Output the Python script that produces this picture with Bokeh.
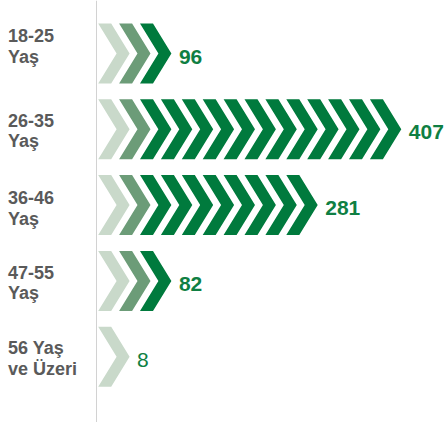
from bokeh.plotting import figure
from bokeh.models import ColumnDataSource, Range1d, Span
from bokeh.core.properties import value
from bokeh.embed import file_html
from bokeh.resources import INLINE

# ---- data ----
cat_line1 = ["18-25", "26-35", "36-46", "47-55", "56 Yaş"]
cat_line2 = ["Yaş", "Yaş", "Yaş", "Yaş", "ve Üzeri"]
values = [96, 407, 281, 82, 8]
unit_per_chevron = 29

# ---- layout constants (pixels) ----
W, H = 445, 422
AXIS_X = 96          # axis line position inside figure
ROW0 = 53            # centre of first row (px from top)
ROW_STEP = 75.8      # px between rows
STEP = 20.9          # px between chevrons
HALF = 30 / ROW_STEP # half height in row units
LEFT0 = 1.7
TOPW = 13.0
TIP = 31.4
NOTCH = 18.4
label_dy = [-6.5, 2.0, 4.0, 2.5, 3.0]   # vertical nudge of category text (px)

colors = ["#c9d9ca", "#6c9c78", "#007a3d"]

p = figure(width=W, height=H, output_backend="svg", toolbar_location=None,
           x_range=Range1d(-AXIS_X, W - AXIS_X),
           y_range=Range1d((H - ROW0) / ROW_STEP, -ROW0 / ROW_STEP),
           min_border=0, outline_line_color=None,
           x_axis_location=None, y_axis_location=None)
p.xgrid.visible = False
p.ygrid.visible = False
p.background_fill_color = "white"
p.border_fill_color = "white"

xs, ys, fills = [], [], []
lab_x, lab_y, lab_t, lab_style = [], [], [], []
for i, v in enumerate(values):
    n = max(1, round(v / unit_per_chevron))
    c = i
    for k in range(n):
        l = LEFT0 + k * STEP
        xs.append([l, l + TOPW, l + TIP, l + TOPW, l, l + NOTCH])
        ys.append([c - HALF, c - HALF, c, c + HALF, c + HALF, c])
        fills.append(colors[min(k, 2)])
    lab_x.append(LEFT0 + (n - 1) * STEP + TIP + 7.5)
    lab_y.append(c + 3.0 / ROW_STEP)
    lab_t.append(str(v))
    lab_style.append("bold" if v >= 10 else "normal")

p.patches(xs="xs", ys="ys", fill_color="fc", line_color=None,
          source=ColumnDataSource(dict(xs=xs, ys=ys, fc=fills)))

p.text(x="x", y="y", text="t", text_font_style="s",
       source=ColumnDataSource(dict(x=lab_x, y=lab_y, t=lab_t, s=lab_style)),
       text_font=value("Liberation Sans"), text_font_size="21px",
       text_color="#0f7f43", text_baseline="alphabetic", text_align="left")

ny = len(values)
p.text(x=[-AXIS_X + 7.5] * ny, y=[i + (label_dy[i] - 11.3) / ROW_STEP for i in range(ny)], text=cat_line1,
       text_font=value("Liberation Sans"), text_font_size="18px", text_font_style="bold",
       text_color="#5a5a5a", text_baseline="alphabetic", text_align="left")
p.text(x=[-AXIS_X + 7.5] * ny, y=[i + (label_dy[i] + 9.7) / ROW_STEP for i in range(ny)], text=cat_line2,
       text_font=value("Liberation Sans"), text_font_size="18px", text_font_style="bold",
       text_color="#5a5a5a", text_baseline="alphabetic", text_align="left")

p.add_layout(Span(location=0, dimension="height", line_color="#d2d2d2", line_width=1))

open("out.html", "w").write(file_html(p, INLINE))
